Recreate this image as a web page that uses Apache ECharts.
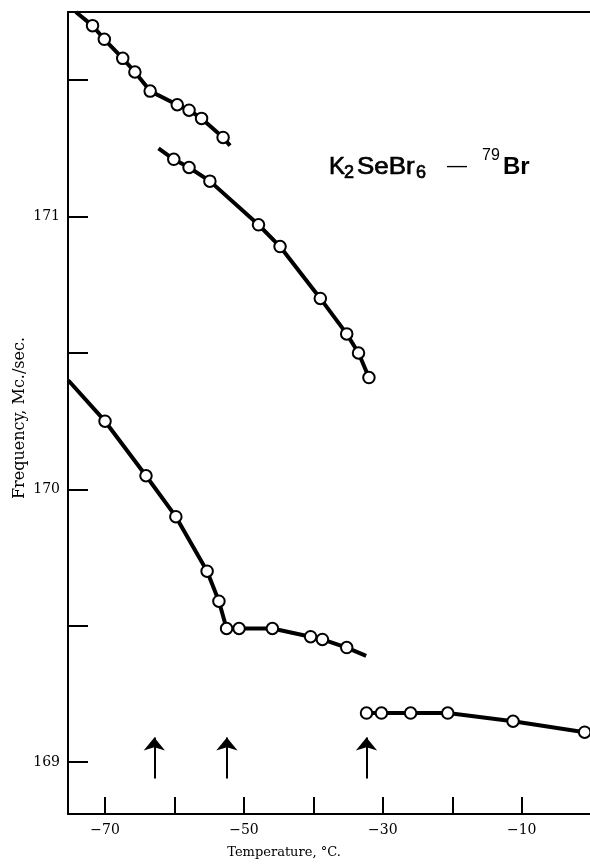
<!DOCTYPE html>
<html><head><meta charset="utf-8">
<script src="https://cdn.jsdelivr.net/npm/echarts@6/dist/echarts.min.js"></script>
<style>html,body{margin:0;padding:0;background:#fff}#c{width:590px;height:865px}</style>
</head><body><div id="c"></div>
<script>
// ---- data (temperature °C, frequency Mc./sec.) ----
// Branch A (upper-left)
const segA_T = [-71.8, -70.1, -67.45, -65.7, -63.5, -59.6, -57.9, -56.1, -53.0];
const segA_F = [171.70, 171.65, 171.58, 171.53, 171.46, 171.41, 171.39, 171.36, 171.29];
const segA_start = [-74.2, 171.75];
const segA_end = [-52.0, 171.26];
// Branch B (middle)
const segB_T = [-60.1, -57.9, -54.9, -47.9, -44.8, -39.0, -35.2, -33.5, -32.0];
const segB_F = [171.21, 171.18, 171.13, 170.97, 170.89, 170.70, 170.57, 170.50, 170.41];
const segB_start = [-62.3, 171.25];
const segB_end = null;
// Branch C (lower-left)
const segC_T = [-70.0, -64.1, -59.8, -55.3, -53.6, -52.5, -50.7, -45.9, -40.4, -38.7, -35.2];
const segC_F = [170.25, 170.05, 169.90, 169.70, 169.59, 169.49, 169.49, 169.49, 169.46, 169.45, 169.42];
const segC_start = [-75.3, 170.40];
const segC_end = [-32.4, 169.39];
// Branch D (lower-right)
const segD_T = [-32.35, -30.2, -26.0, -20.65, -11.25, -0.94];
const segD_F = [169.18, 169.18, 169.18, 169.18, 169.15, 169.11];
const segD_start = null;
const segD_end = null;
// transition arrows
const arrowT = [-62.9, -52.45, -32.35];
const arrowFrom = 168.94, arrowTo = 169.09;
// axes
const xTicks = [-70, -60, -50, -40, -30, -20, -10];
const xLabels = [-70, -50, -30, -10];
const yTicks = [169, 169.5, 170, 170.5, 171, 171.5];
const yLabels = [169, 170, 171];
const xMin = -75.33, xMax = -0.17, yMin = 168.81, yMax = 171.75;

function build(T, F, s, e) {
  const d = [];
  if (s) d.push({ value: s, symbol: 'none' });
  T.forEach((t, i) => d.push([t, F[i]]));
  if (e) d.push({ value: e, symbol: 'none' });
  return d;
}
function lineSeries(data) {
  return {
    type: 'line', data: data, xAxisIndex: 0, yAxisIndex: 0,
    symbol: 'circle', symbolSize: 11.5, showSymbol: true,
    lineStyle: { color: '#000', width: 4 },
    itemStyle: { color: '#fff', borderColor: '#000', borderWidth: 2 },
    emphasis: { disabled: true }, z: 3
  };
}
const serif = 'DejaVu Serif';
const sans = '"Liberation Sans"';
function t(x, y, text, font, extra) {
  return Object.assign({ type: 'text', x: x, y: y,
    style: Object.assign({ text: text, fill: '#000', font: font, align: 'left', verticalAlign: 'middle' },
      extra || {}) });
}
const heavy = { stroke: '#000', lineWidth: 0.7 };
const chart = echarts.init(document.getElementById('c'), null, { renderer: 'canvas' });
chart.setOption({
  animation: false,
  backgroundColor: '#fff',
  grid: { left: 68, right: 0, top: 12, bottom: 51 },
  xAxis: [{
    type: 'value', min: xMin, max: xMax, position: 'bottom',
    axisLine: { show: true, onZero: false, lineStyle: { color: '#000', width: 2 } },
    axisTick: { show: true, inside: true, length: 17, customValues: xTicks, lineStyle: { color: '#000', width: 2 } },
    axisLabel: { show: true, customValues: xLabels, margin: 9, color: '#000', fontFamily: serif, fontSize: 14,
      formatter: v => String(v).replace('-', '\u2212') },
    splitLine: { show: false }
  }, {
    type: 'value', min: xMin, max: xMax, position: 'top',
    axisLine: { show: true, onZero: false, lineStyle: { color: '#000', width: 2 } },
    axisTick: { show: false }, axisLabel: { show: false }, splitLine: { show: false }
  }],
  yAxis: {
    type: 'value', min: yMin, max: yMax,
    axisLine: { show: true, onZero: false, lineStyle: { color: '#000', width: 2 } },
    axisTick: { show: true, inside: true, length: 20, customValues: yTicks, lineStyle: { color: '#000', width: 2 } },
    axisLabel: { show: true, customValues: yLabels, margin: 8, color: '#000', fontFamily: serif, fontSize: 14 },
    splitLine: { show: false }
  },
  series: [
    lineSeries(build(segA_T, segA_F, segA_start, segA_end)),
    lineSeries(build(segB_T, segB_F, segB_start, segB_end)),
    lineSeries(build(segC_T, segC_F, segC_start, segC_end)),
    lineSeries(build(segD_T, segD_F, segD_start, segD_end)),
    {
      type: 'line', data: [], silent: true,
      markLine: {
        silent: true, animation: false,
        symbol: ['none', 'arrow'], symbolSize: [16, 13],
        label: { show: false },
        lineStyle: { color: '#000', width: 2, type: 'solid' },
        emphasis: { disabled: true },
        data: arrowT.map(v => [{ coord: [v, arrowFrom] }, { coord: [v, arrowTo] }])
      }
    }
  ],
  graphic: [
    { type: 'text', x: 20, y: 418, rotation: Math.PI / 2,
      style: { text: 'Frequency, Mc./sec.', fill: '#000', font: '16px "DejaVu Serif"', align: 'center', verticalAlign: 'middle' } },
    { type: 'text', x: 284, y: 853,
      style: { text: 'Temperature, °C.', fill: '#000', font: '13px "DejaVu Serif"', align: 'center', verticalAlign: 'middle' } },
    t(329, 167, 'K', '24px ' + sans, heavy),
    t(344, 173, '2', '18px ' + sans, heavy),
    Object.assign(t(357, 167, 'SeBr', '24px ' + sans, heavy), { scaleX: 1.08 }),
    t(416, 173, '6', '18px ' + sans, heavy),
    t(447, 166, '—', '20px ' + sans),
    t(482, 156, '79', '16px ' + sans),
    t(503, 167, 'Br', 'bold 24px ' + sans)
  ]
});
</script></body></html>
